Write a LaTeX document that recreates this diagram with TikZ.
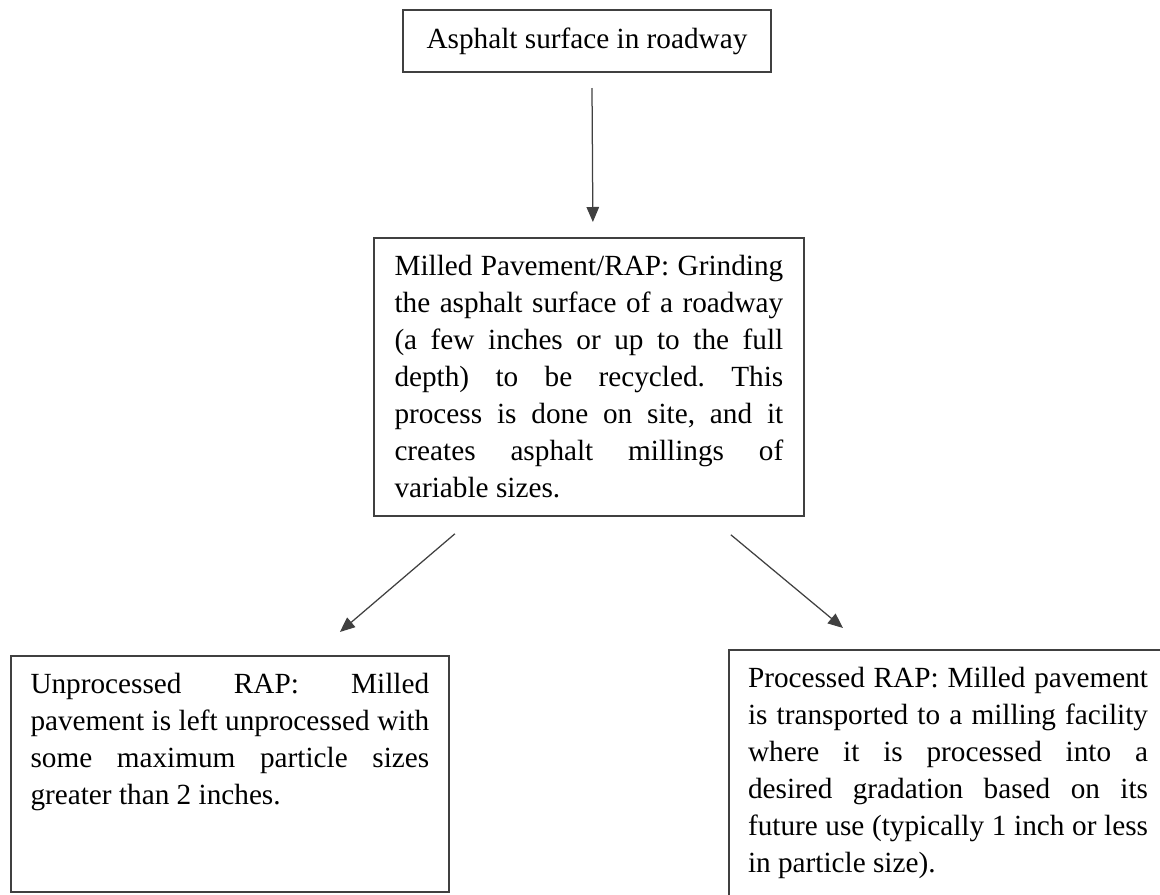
\documentclass[tikz,border=0pt]{standalone}
\usepackage{fontspec}
\setmainfont{Liberation Serif}
\usetikzlibrary{arrows.meta,calc}
\tolerance=10000
\hyphenpenalty=10000
\frenchspacing

\begin{document}
\begin{tikzpicture}[x=0.4pt,y=-0.4pt,
        rapbox/.style={draw=black!75, line width=0.8pt, align=justify, anchor=north west,
            font=\fontsize{11.7pt}{14.8pt}\selectfont, inner ysep=7pt},
        flow/.style={-{Triangle[length=6pt,width=5pt]}, black!75, line width=0.5pt}]
        \useasboundingbox (0,0) rectangle (1160,894);
        \node[rapbox, align=center, anchor=center, minimum width=147.2pt, minimum height=24.8pt] (asphalt) at (587,41) {Asphalt surface in roadway};
        \node[rapbox, text width=155.5pt, inner xsep=8.2pt, text depth=89pt] (milled) at (373,237) {Milled Pavement/RAP: Grinding\linebreak the asphalt surface of a roadway\linebreak (a few inches or up to the full\linebreak depth) to be recycled. This\linebreak process is done on site, and it\linebreak creates asphalt millings of\linebreak variable sizes.};
        \node[rapbox, text width=159.5pt, inner xsep=7.8pt, text depth=72.2pt] (unproc) at (10,655) {Unprocessed RAP: Milled\linebreak pavement is left unprocessed with\linebreak some maximum particle sizes\linebreak greater than 2 inches.};
        \node[rapbox, text width=160pt, inner xsep=7.6pt, text depth=80pt] (proc) at (728,649) {Processed RAP: Milled pavement\linebreak is transported to a milling facility\linebreak where it is processed into a\linebreak desired gradation based on its\linebreak future use (typically 1 inch or less\linebreak in particle size).};
        \draw[flow] ($(asphalt.south)+(5,15)$) -- ($(milled.north)+(4,-15)$);
        \draw[flow] ($(milled.south)+(-134,17)$) -- ($(unproc.north)+(110,-23)$);
        \draw[flow] ($(milled.south)+(142,18)$) -- ($(proc.north west)+(115,-21)$);
\end{tikzpicture}
\end{document}
